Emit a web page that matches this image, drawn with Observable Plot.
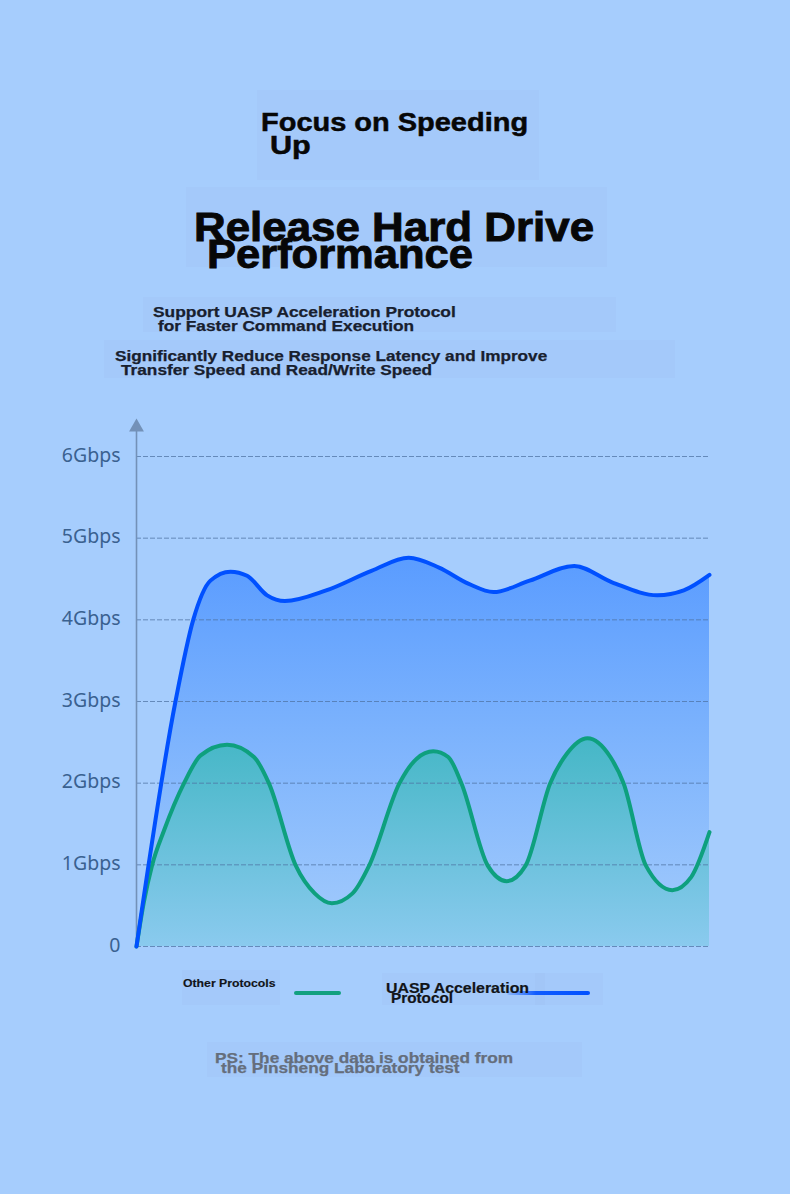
<!DOCTYPE html>
<html><head><meta charset="utf-8">
<script src="https://cdn.jsdelivr.net/npm/d3@7"></script>
<script src="https://cdn.jsdelivr.net/npm/@observablehq/plot@0.6"></script>
<style>
html,body{margin:0;padding:0;background:#a6cdfd;width:790px;height:1194px;overflow:hidden}
#page{position:relative;width:790px;height:1194px}
#page svg{position:absolute;left:0;top:0}
.patch{position:absolute;background:rgba(130,160,205,0.06)}
.t{position:absolute;white-space:pre;transform-origin:0 0;font-family:"Liberation Sans",Arial,sans-serif;font-weight:bold}
.lg{position:absolute;border-radius:2px}
</style></head><body><div id="page"></div><script>
// ---- data ----
const uaspX = [0, 6.8, 9.9, 12.9, 16.4, 19.3, 22.8, 25.9, 33.1, 41.0, 47.5, 52.8, 58.0, 62.3, 68.6, 76.4, 83.0, 90.9, 95.5, 100];
const uaspGbps = [0, 3.0, 4.0, 4.48, 4.59, 4.54, 4.30, 4.23, 4.36, 4.60, 4.76, 4.64, 4.44, 4.34, 4.48, 4.66, 4.46, 4.30, 4.36, 4.55];
const otherX = [0, 1.3, 2.7, 4.8, 8.3, 11.2, 15.8, 20.5, 23.1, 27.8, 31.1, 34.1, 37.7, 40.6, 45.9, 48.9, 51.8, 54.4, 56.7, 61.3, 64.6, 67.9, 72.2, 75.1, 78.7, 82.7, 85.0, 88.9, 93.5, 96.8, 100];
const otherGbps = [0, 0.55, 0.99, 1.42, 2.0, 2.34, 2.47, 2.32, 2.0, 0.99, 0.65, 0.53, 0.65, 0.99, 2.0, 2.30, 2.39, 2.32, 2.0, 0.99, 0.80, 0.99, 2.0, 2.36, 2.55, 2.32, 2.0, 0.99, 0.69, 0.85, 1.40];
const yTicks = [0, 1, 2, 3, 4, 5, 6];
const yTickLabels = ["0", "1Gbps", "2Gbps", "3Gbps", "4Gbps", "5Gbps", "6Gbps"];
const seriesNames = ["Other Protocols", "UASP Acceleration\nProtocol"];
const titleLines = ["Focus on Speeding", "Up"];
const headlineLines = ["Release Hard Drive", "Performance"];
const sub1Lines = ["Support UASP Acceleration Protocol", "for Faster Command Execution"];
const sub2Lines = ["Significantly Reduce Response Latency and Improve", "Transfer Speed and Read/Write Speed"];
const noteLines = ["PS: The above data is obtained from", "the Pinsheng Laboratory test"];

const uasp = uaspX.map((x, i) => ({x, y: uaspGbps[i]}));
const other = otherX.map((x, i) => ({x, y: otherGbps[i]}));

const page = document.getElementById("page");

// faint patches behind texts
[[257,90,282,90],[186,187,421,80],[143,297,473,35],[104,340,571,38],[182,970,98,35],[382,973,163,32],[535,973,68,32],[207,1042,375,35]].forEach(([l,t,w,h]) => {
  const d = document.createElement("div"); d.className = "patch";
  Object.assign(d.style, {left:l+"px", top:t+"px", width:w+"px", height:h+"px"});
  page.appendChild(d);
});

const svg = Plot.plot({
  width: 790, height: 1194,
  marginLeft: 136, marginRight: 81, marginTop: 456, marginBottom: 248,
  style: {background: "transparent", overflow: "visible"},
  x: {domain: [0, 100], axis: null},
  y: {domain: [0, 6], axis: null},
  marks: [
    Plot.areaY(uasp, {x: "x", y: "y", curve: "monotone-x", fill: "url(#blueGrad)"}),
    Plot.areaY(other, {x: "x", y: "y", curve: "monotone-x", fill: "url(#greenGrad)"}),
    Plot.ruleY(yTicks, {y: d => d, x1: () => 0, x2: () => 100, stroke: "#4f73a3", strokeOpacity: 0.75, strokeWidth: 1, strokeDasharray: "5,2"}),
    Plot.ruleX([0], {x: d => d, y1: () => 0, y2: () => 6.33, stroke: "#7391b8", strokeWidth: 1.6}),
    Plot.dot([0], {x: d => d, y: () => 6.36, symbol: "triangle", r: 5.5, fill: "#7391b8", stroke: "none"}),
    Plot.line(other, {x: "x", y: "y", curve: "monotone-x", stroke: "#0ea07e", strokeWidth: 4}),
    Plot.line(uasp, {x: "x", y: "y", curve: "monotone-x", stroke: "#0050ff", strokeWidth: 4}),
    Plot.text(yTicks, {x: () => 0, y: d => d, text: (d, i) => yTickLabels[i], textAnchor: "end", dx: -16, dy: -1, fontSize: 19.5, fill: "#3a6190", fontFamily: "Noto Sans, Open Sans, sans-serif"})
  ]
});
const defs = d3.select(svg).insert("defs", ":first-child");
const bg = defs.append("linearGradient").attr("id", "blueGrad").attr("x1", 0).attr("y1", 0).attr("x2", 0).attr("y2", 1);
bg.append("stop").attr("offset", 0).attr("stop-color", "#5a9cff");
bg.append("stop").attr("offset", 0.4).attr("stop-color", "#78b0fd");
bg.append("stop").attr("offset", 1).attr("stop-color", "#a4ccfc");
const gg = defs.append("linearGradient").attr("id", "greenGrad").attr("x1", 0).attr("y1", 0).attr("x2", 0).attr("y2", 1);
gg.append("stop").attr("offset", 0).attr("stop-color", "#45b7c6");
gg.append("stop").attr("offset", 1).attr("stop-color", "#8acaee");
page.appendChild(svg);

// legend swatches
const g1 = document.createElement("div"); g1.className = "lg";
Object.assign(g1.style, {left:"294px", top:"991px", width:"47px", height:"3.5px", background:"#12a07f"});
page.appendChild(g1);
const b1 = document.createElement("div"); b1.className = "lg";
Object.assign(b1.style, {left:"507px", top:"991px", width:"83px", height:"3.5px", background:"linear-gradient(to right, rgba(0,80,255,0.15), rgba(0,80,255,0.9) 35%, #0050ff)"});
page.appendChild(b1);

// text placement with measured ink widths
const ctx = document.createElement("canvas").getContext("2d");
function addText(str, left, baseline, width, size, color, stroke) {
  const font = `bold ${size}px "Liberation Sans", Arial, sans-serif`;
  ctx.font = font;
  const m = ctx.measureText(str);
  const ink = m.actualBoundingBoxLeft + m.actualBoundingBoxRight;
  const k = width / ink;
  const asc = m.fontBoundingBoxAscent || 0.905 * size;
  const desc = m.fontBoundingBoxDescent || 0.212 * size;
  const lh = size * 0.68;
  const d = document.createElement("div"); d.className = "t";
  d.textContent = str;
  d.style.fontSize = size + "px";
  d.style.lineHeight = lh + "px";
  d.style.color = color;
  if (stroke) d.style.webkitTextStroke = stroke + "px " + color;
  d.style.top = (baseline - ((lh - (asc + desc)) / 2 + asc)) + "px";
  d.style.left = (left + m.actualBoundingBoxLeft * k) + "px";
  d.style.transform = `scaleX(${k})`;
  page.appendChild(d);
}
addText(titleLines[0], 262.5, 131.7, 265, 26, "#070707", 0.5);
addText(titleLines[1], 271.4, 155, 38.6, 26, "#070707", 0.5);
addText(headlineLines[0], 196.4, 241.7, 396.5, 40, "#070707", 0.9);
addText(headlineLines[1], 209, 268.3, 262.4, 40, "#070707", 0.9);
addText(sub1Lines[0], 152.9, 317.7, 302.5, 14.5, "#18202e", 0.25);
addText(sub1Lines[1], 158.2, 331.7, 255, 14.5, "#18202e", 0.25);
addText(sub2Lines[0], 115.4, 361.7, 432.1, 14.5, "#18202e", 0.25);
addText(sub2Lines[1], 121.4, 375.7, 310, 14.5, "#18202e", 0.25);
addText(seriesNames[0], 183.3, 987.3, 92.7, 10.5, "#111418", 0.15);
const uaspName = seriesNames[1].split("\n");
addText(uaspName[0], 385.7, 993.3, 143.3, 14, "#111418", 0.2);
addText(uaspName[1], 390.7, 1003.3, 61, 14, "#111418", 0.2);
addText(noteLines[0], 215.7, 1064, 296.6, 15, "#656e7c", 0.25);
addText(noteLines[1], 220.7, 1074, 238.6, 15, "#656e7c", 0.25);
</script></body></html>
